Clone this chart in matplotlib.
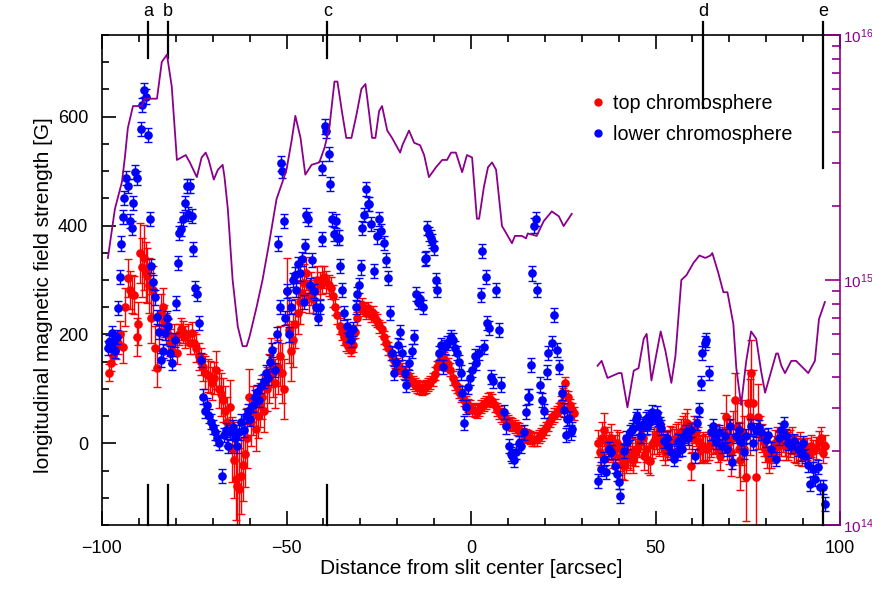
import numpy as np
import matplotlib
matplotlib.use("Agg")
import matplotlib.pyplot as plt
import matplotlib.transforms as mtransforms
from matplotlib.lines import Line2D
from matplotlib.ticker import MultipleLocator

plt.rcParams['font.family'] = ['Liberation Sans', 'DejaVu Sans']

# ---------------- data ----------------
# top chromosphere (red)
red_x = [
    -98.0, -97.5, -97.0, -96.3, -95.6, -95.0, -94.3, -93.8, -93.0, -92.4,
    -91.8, -91.2, -90.5, -90.3, -89.7, -89.2, -88.7, -88.2, -87.8, -87.2,
    -86.7, -86.2, -85.7, -85.1, -84.6, -84.1, -83.6, -83.1, -82.6, -82.1,
    -81.6, -81.0, -80.5, -79.7, -79.2, -78.6, -78.0, -77.4, -76.8, -76.2,
    -75.6, -75.0, -74.4, -73.8, -73.2, -72.6, -72.0, -71.4, -70.8, -70.2,
    -69.6, -69.0, -68.4, -67.8, -67.2, -66.6, -66.0, -65.4, -64.8, -64.3,
    -63.8, -63.3, -62.8, -62.3, -61.8, -61.3, -60.8, -60.2, -59.6, -59.0,
    -58.4, -57.8, -57.2, -56.6, -56.0, -55.4, -54.8, -54.2, -53.6, -53.0,
    -52.4, -51.8, -51.2, -50.6, -50.0, -49.4, -48.8, -48.2, -47.6, -47.0,
    -46.4, -45.8, -45.2, -44.6, -44.0, -43.4, -42.8, -42.2, -41.6, -41.0,
    -40.4, -39.8, -39.2, -38.6, -38.0, -37.4, -36.8, -36.2, -35.6, -35.0,
    -34.4, -33.8, -33.2, -32.6, -32.0, -31.4, -30.8, -30.2, -29.6, -29.0,
    -28.4, -27.8, -27.2, -26.6, -26.0, -25.4, -24.8, -24.2, -23.6, -23.0,
    -22.4, -21.8, -21.2, -20.6, -20.0, -19.4, -18.8, -18.2, -17.6, -17.0,
    -16.4, -15.8, -15.2, -14.6, -14.0, -13.4, -12.8, -12.2, -11.6, -11.0,
    -10.4, -9.8, -9.2, -8.6, -8.0, -7.4, -6.8, -6.2, -5.6, -5.0,
    -4.4, -3.8, -3.2, -2.6, -2.0, -1.4, -0.8, -0.2, 0.4, 1.0,
    1.6, 2.2, 2.8, 3.4, 4.0, 4.6, 5.2, 5.8, 6.4, 7.0,
    7.6, 8.2, 8.8, 9.4, 10.0, 10.6, 11.2, 11.8, 12.4, 13.0,
    13.6, 14.2, 14.8, 15.4, 16.0, 16.6, 17.2, 17.8, 18.4, 19.0,
    19.6, 20.2, 20.8, 21.4, 22.0, 22.6, 23.2, 23.8, 24.4, 25.0,
    25.6, 26.2, 26.8, 27.4, 28.0,
    34.5, 35.0, 35.5, 36.0, 36.5, 37.0, 37.5, 38.0, 38.5, 39.0,
    39.5, 40.0, 40.5, 41.0, 41.5, 42.0, 42.5, 43.0, 43.5, 44.0,
    44.5, 45.0, 45.5, 46.0, 46.5, 47.0, 47.5, 48.0, 48.5, 49.0,
    49.5, 50.0, 50.5, 51.0, 51.5, 52.0, 52.5, 53.0, 53.5, 54.0,
    54.5, 55.0, 55.5, 56.0, 56.5, 57.0, 57.5, 58.0, 58.5, 59.0,
    59.5, 60.0, 60.5, 61.0, 61.5, 62.0, 62.5, 63.0, 63.5, 64.0,
    64.5, 65.0, 65.5, 66.0, 66.5, 67.0, 67.5, 68.0, 68.5, 69.0,
    69.5, 70.0, 70.5, 71.0, 71.5, 72.0, 72.5, 73.0, 73.5, 74.0,
    74.6, 75.0, 75.5, 75.9, 76.5, 77.3, 77.8, 78.3, 78.8, 79.3,
    79.8, 80.3, 80.8, 81.4, 82.0, 82.5, 83.0, 83.5, 84.0, 84.5,
    85.0, 85.5, 86.0, 86.5, 87.0, 87.5, 88.0, 88.6, 89.2, 89.8,
    90.4, 91.0, 91.6, 92.2, 92.8, 93.5, 94.2, 94.9, 95.5, 96.0,
]
red_y = [
    130, 148, 160, 175, 185, 200, 177, 250, 303, 281,
    275, 272, 195, 220, 350, 323, 341, 315, 308, 290,
    230, 281, 175, 139, 205, 240, 250, 225, 210, 200,
    185, 170, 195, 166, 200, 210, 205, 195, 200, 185,
    202, 184, 175, 160, 150, 140, 130, 125, 122, 110,
    120, 135, 100, 90, 80, 60, 40, 67, -11, -30,
    -65, -78, -84, -60, -40, -20, 10, 86, 40, 60,
    26, 50, 70, 85, 60, 100, 120, 148, 130, 110,
    140, 160, 130, 100, 280, 208, 170, 190, 220, 240,
    260, 277, 294, 312, 270, 285, 265, 280, 300, 290,
    300, 305, 296, 290, 286, 270, 250, 235, 215, 205,
    195, 185, 178, 172, 180, 205, 230, 250, 255, 245,
    240, 248, 235, 240, 230, 225, 215, 210, 195, 185,
    175, 165, 155, 150, 145, 140, 135, 130, 128, 125,
    118, 112, 108, 105, 103, 100, 102, 105, 108, 112,
    118, 128, 140, 150, 158, 155, 150, 145, 135, 120,
    110, 105, 95, 88, 80, 75, 70, 67, 62, 60,
    58, 62, 68, 72, 75, 80, 82, 78, 70, 62,
    57, 52, 48, 44, 40, 37, 34, 31, 28, 25,
    20, 17, 14, 12, 10, 8, 7, 8, 12, 16,
    22, 28, 35, 42, 48, 52, 56, 62, 75, 90,
    110, 85, 70, 62, 55,
    0, -15, 10, 25, 5, -10, -5, 10, -20, -10,
    0, -5, -25, -40, -42, -30, -20, -24, -15, -30,
    -17, -10, 0, 15, 10, -24, -10, -30, -33, -2,
    5, 15, 5, 2, 10, -5, -15, -5, 0, 7,
    5, 2, 10, 15, 0, 20, 25, 30, 38, 15,
    -42, 10, 25, 20, 5, -11, -10, -5, -8, -11,
    -5, 0, 5, 7, 10, -10, -24, 0, 20, 49,
    10, 2, -15, 10, 80, 30, -11, -30, 20, -10,
    -62, 75, 49, 129, 75, -62, 49, 20, 10, 2,
    -10, -20, -29, -20, -11, 0, 5, -5, 2, 10,
    2, -5, -5, 0, 5, -10, -11, -15, -5, -17,
    -10, -11, -20, -5, -14, -8, 2, 10, -17, -5,
]
red_err = [
    15, 15, 15, 20, 20, 25, 30, 35, 35, 35,
    35, 35, 35, 40, 55, 55, 60, 55, 50, 50,
    45, 45, 40, 35, 35, 35, 35, 30, 30, 30,
    25, 25, 25, 20, 20, 20, 20, 20, 20, 20,
    20, 20, 25, 25, 25, 25, 30, 30, 30, 30,
    30, 35, 35, 40, 40, 45, 45, 50, 60, 70,
    75, 75, 75, 70, 65, 60, 55, 50, 45, 45,
    40, 40, 40, 40, 40, 40, 45, 45, 45, 45,
    50, 55, 55, 55, 60, 60, 55, 50, 45, 40,
    40, 35, 35, 30, 30, 30, 25, 25, 25, 25,
    25, 20, 20, 20, 20, 20, 15, 15, 15, 15,
    15, 15, 12, 12, 12, 12, 12, 12, 12, 12,
    12, 12, 12, 12, 12, 12, 12, 12, 12, 12,
    12, 12, 12, 12, 12, 12, 12, 12, 12, 12,
    12, 12, 12, 12, 12, 12, 12, 12, 12, 12,
    12, 12, 12, 12, 12, 12, 12, 12, 12, 12,
    12, 12, 12, 12, 12, 12, 12, 12, 12, 12,
    12, 12, 12, 12, 12, 12, 12, 12, 12, 12,
    12, 12, 12, 12, 12, 12, 12, 12, 12, 12,
    12, 12, 12, 12, 12, 12, 12, 12, 12, 12,
    12, 12, 12, 12, 12, 12, 12, 12, 12, 12,
    12, 12, 12, 12, 12,
    25, 25, 30, 30, 25, 25, 25, 25, 25, 25,
    25, 25, 25, 25, 25, 25, 25, 25, 25, 25,
    25, 25, 25, 25, 25, 25, 25, 25, 25, 25,
    25, 25, 25, 25, 25, 25, 25, 25, 25, 25,
    25, 25, 25, 25, 25, 25, 25, 25, 25, 25,
    25, 25, 25, 25, 25, 25, 25, 25, 25, 25,
    25, 25, 25, 25, 25, 25, 25, 30, 35, 40,
    40, 40, 45, 50, 50, 45, 50, 55, 60, 60,
    80, 60, 70, 60, 60, 90, 60, 30, 25, 25,
    25, 25, 25, 25, 25, 25, 25, 25, 25, 25,
    25, 25, 25, 25, 25, 25, 25, 25, 25, 25,
    20, 20, 20, 20, 20, 20, 20, 20, 20, 20,
]

# lower chromosphere (blue)
blue_x = [
    -98.4, -98.0, -97.6, -97.2, -96.8, -96.4, -96.0, -95.6, -95.2, -94.8,
    -94.4, -94.0, -93.5, -93.0, -92.5, -92.0, -91.6, -91.0, -90.5, -89.5,
    -89.2, -88.6, -88.1, -87.6, -87.0, -86.6, -86.2, -85.7, -85.2, -84.6,
    -84.0, -83.4, -83.0, -82.5, -82.0, -81.6, -81.0, -80.3, -80.0, -79.5,
    -79.0, -78.6, -78.1, -77.6, -77.0, -76.6, -76.2, -75.7, -75.4, -74.9,
    -74.3, -73.8, -73.2, -72.7, -72.2, -71.6, -71.0, -70.5, -70.0, -69.4,
    -68.8, -68.2, -67.6, -67.0, -66.4, -65.8, -65.2, -64.6, -64.0, -63.4,
    -62.8, -62.2, -61.6, -61.0, -60.4, -59.8, -59.2, -58.6, -58.0, -57.4,
    -56.8, -56.2, -55.6, -55.0, -54.4, -53.8, -53.2, -52.7, -52.4, -51.8,
    -51.4, -51.1, -50.8, -50.3, -49.8, -49.3, -48.8, -48.3, -47.8, -47.3,
    -47.0, -46.4, -45.7, -45.2, -44.9, -44.6, -44.2, -43.7, -43.2, -42.6,
    -42.0, -41.4, -40.8, -40.5, -40.3, -39.7, -39.4, -38.6, -38.1, -37.6,
    -37.0, -36.6, -36.2, -35.7, -35.4, -34.9, -34.3, -33.7, -33.1, -32.5,
    -31.9, -31.3, -30.8, -30.3, -29.7, -29.5, -28.9, -28.4, -27.9, -27.6,
    -27.0, -26.2, -25.5, -24.9, -24.3, -23.5, -23.0, -22.4, -21.9, -21.4,
    -20.8, -20.2, -19.7, -19.2, -18.6, -18.0, -17.6, -16.8, -16.0, -15.4,
    -14.9, -14.3, -13.7, -13.0, -12.6, -12.2, -11.8, -11.4, -10.9, -10.5,
    -10.0, -9.5, -9.2, -8.6, -8.1, -7.6, -7.0, -6.4, -5.8, -5.4,
    -4.8, -4.3, -3.8, -3.3, -2.8, -2.4, -1.9, -1.4, -0.8, -0.2,
    0.4, 1.0, 1.4, 2.2, 2.6, 3.0, 3.4, 4.0, 4.3, 4.9,
    5.4, 6.0, 6.8, 7.6, 8.1, 8.9, 9.5, 10.3, 10.8, 11.1,
    11.7, 12.3, 12.9, 13.5, 14.3, 14.9, 15.4, 15.7, 16.2, 16.5,
    17.0, 17.6, 17.8, 18.6, 19.2, 19.8, 20.5, 21.0, 22.0, 22.4,
    23.2, 23.8, 24.6, 25.1, 25.7, 25.9, 26.5, 27.0, 27.3,
    34.3, 35.1, 36.0, 36.6, 37.3, 38.0, 38.9, 39.6, 40.1, 40.5,
    41.4, 42.4, 43.2, 44.0, 44.6, 45.4, 46.2, 47.3, 48.1, 49.0,
    49.9, 50.8, 51.6, 52.4, 53.5, 54.9, 55.7, 56.8, 57.6, 58.4,
    59.7, 60.8, 61.2, 61.9, 62.4, 62.7, 63.5, 63.8, 64.6, 65.1,
    65.7, 66.5, 67.9, 68.9, 70.3, 70.6, 71.9, 73.2, 74.6, 75.9,
    77.3, 78.6, 79.9, 81.4, 82.7, 84.1, 85.4, 86.8, 88.6, 90.5,
    91.4, 91.9, 92.6, 93.2, 94.0, 94.6, 95.4, 95.9,
    42.0, 43.6, 45.0, 46.7, 47.8, 48.6, 50.3, 51.2, 53.0, 54.2,
    56.2, 57.2, 58.9, 66.0, 67.2, 69.5, 72.5, 74.0, 76.5, 78.0,
    80.5, 83.4, 84.8, 86.0, 87.6, 89.5, 89.9,
]
blue_y = [
    175, 186, 180, 202, 190, 170, 195, 248, 305, 367,
    416, 450, 487, 472, 408, 396, 441, 498, 487, 578,
    622, 649, 637, 567, 412, 326, 296, 268, 232, 204,
    153, 170, 202, 230, 215, 166, 148, 190, 257, 332,
    387, 394, 412, 441, 472, 421, 472, 418, 357, 285,
    275, 221, 153, 86, 60, 70, 50, 40, 30, 20,
    10, 0, -60, 15, 25, -5, 20, 30, 10, -5,
    20, 40, 25, 50, 60, 45, 70, 85, 95, 80,
    105, 115, 130, 120, 150, 171, 135, 200, 367, 250,
    514, 500, 409, 230, 280, 200, 250, 300, 310, 281,
    330, 312, 339, 260, 363, 420, 412, 290, 336, 280,
    250, 230, 250, 376, 505, 582, 573, 531, 476, 412,
    385, 409, 378, 378, 326, 281, 239, 215, 200, 190,
    210, 250, 275, 290, 323, 396, 420, 467, 440, 440,
    403, 317, 380, 412, 390, 368, 336, 303, 239, 166,
    129, 150, 181, 204, 166, 129, 108, 148, 170, 195,
    275, 260, 265, 250, 339, 341, 396, 385, 378, 372,
    359, 300, 281, 166, 180, 140, 177, 185, 190, 195,
    190, 175, 166, 150, 130, 93, 38, 67, 104, 120,
    135, 160, 148, 166, 272, 354, 177, 305, 221, 212,
    122, 115, 281, 208, 108, 57, 31, -5, -20, -24,
    -30, -15, 0, -5, 20, 58, 86, 86, 144, 312,
    400, 412, 281, 108, 80, 60, 131, 166, 184, 235,
    171, 140, 93, 62, 16, 44, 47, 20, 26,
    -69, -47, -29, -53, -11, -16, -42, -57, -71, -96,
    -14, 2, 20, 29, 44, 31, 13, 44, 49, 57,
    49, 44, 29, 4, -5, -29, -17, 2, 13, 20,
    25, -24, 38, 62, 111, 166, 184, 190, 129, 20,
    31, 2, -5, 13, 31, -35, 13, 2, 13, 31,
    25, 20, 7, -11, -29, 25, 13, -5, -11, -24,
    -40, -75, -47, -66, -44, -80, -80, -111,
    10, 25, 50, 35, 30, 40, 55, 35, 10, -15,
    5, -10, 10, 10, 20, -10, 25, -15, 0, 30,
    15, 10, 35, 0, 5, -20, 0,
]
blue_err = [13] * len(blue_y)

# purple curve (right log axis), two segments: position [arcsec], log10 value
purple1_x = [
    -98.4, -96.5, -94.6, -93.8, -93.0, -91.6, -89.2, -88.4, -87.0, -85.1,
    -83.8, -82.4, -81.1, -79.7, -77.3, -76.2, -74.3, -73.0, -71.9, -71.1,
    -69.7, -68.6, -67.3, -66.8, -65.9, -64.6, -63.2, -61.9, -60.8, -60.0,
    -58.1, -56.5, -54.6, -52.7, -51.1, -50.0, -48.6, -47.6, -46.2, -44.9,
    -43.2, -41.1, -39.7, -38.4, -37.0, -36.2, -34.9, -33.8, -32.4, -31.1,
    -29.7, -28.6, -27.6, -26.8, -25.9, -24.9, -24.1, -22.7, -21.4, -19.2,
    -18.6, -16.8, -15.4, -13.8, -12.7, -11.4, -9.5, -7.8, -6.5, -5.4,
    -4.1, -2.4, -1.1, 0.3, 1.6, 2.2, 3.5, 4.6, 5.7, 6.8,
    8.4, 9.2, 11.1, 11.9, 13.8, 14.9, 15.4, 17.8, 19.7, 21.9,
    23.8, 25.1, 27.3,
]
purple1_log = [
    15.09, 15.29, 15.40, 15.50, 15.62, 15.71, 15.71, 15.74, 15.74, 15.74,
    15.89, 15.92, 15.79, 15.49, 15.51, 15.48, 15.42, 15.50, 15.52, 15.49,
    15.41, 15.45, 15.47, 15.42, 15.29, 15.00, 14.81, 14.73, 14.73, 14.77,
    14.89, 15.00, 15.16, 15.33, 15.40, 15.45, 15.57, 15.67, 15.58, 15.43,
    15.47, 15.48, 15.54, 15.62, 15.81, 15.81, 15.68, 15.58, 15.58, 15.67,
    15.78, 15.80, 15.68, 15.58, 15.58, 15.69, 15.71, 15.61, 15.58, 15.52,
    15.55, 15.61, 15.56, 15.55, 15.51, 15.42, 15.46, 15.49, 15.49, 15.52,
    15.52, 15.44, 15.51, 15.50, 15.25, 15.25, 15.38, 15.46, 15.48, 15.45,
    15.22, 15.20, 15.15, 15.18, 15.18, 15.17, 15.19, 15.18, 15.24, 15.28,
    15.26, 15.22, 15.27,
]
purple2_x = [
    34.3, 35.4, 37.0, 40.0, 40.8, 42.4, 44.1, 45.4, 46.8, 47.6,
    48.9, 51.4, 52.7, 54.3, 55.4, 57.0, 58.4, 60.3, 61.9, 63.5,
    64.9, 65.4, 67.0, 68.4, 69.5, 71.1, 71.9, 73.2, 74.6, 75.9,
    77.3, 78.6, 79.7, 81.4, 82.7, 83.2, 84.1, 85.1, 86.8, 88.1,
    91.4, 93.2, 94.3, 95.9,
]
purple2_log = [
    14.65, 14.67, 14.60, 14.62, 14.62, 14.48, 14.63, 14.64, 14.76, 14.78,
    14.59, 14.79, 14.71, 14.58, 14.69, 15.00, 15.02, 15.07, 15.10, 15.09,
    15.10, 15.11, 15.03, 14.95, 14.95, 14.82, 14.64, 14.49, 14.67, 14.79,
    14.76, 14.63, 14.54, 14.63, 14.70, 14.70, 14.65, 14.62, 14.67, 14.67,
    14.62, 14.67, 14.84, 14.91,
]

# position markers
mark_labels = ['a', 'b', 'c', 'd', 'e']
mark_x = [-87.6, -82.2, -38.9, 63.0, 95.4]
mark_top_len = [0.047, 0.047, 0.047, 0.149, 0.272]   # axes-fraction length inside
mark_bot_len = [0.082, 0.082, 0.082, 0.082, 0.071]

# ---------------- figure ----------------
W, H = 872, 592
fig = plt.figure(figsize=(W / 100, H / 100), dpi=100)
ax = fig.add_axes([102 / W, 1 - 525 / H, 738 / W, 490 / H])

purple = '#8B008B'
red = '#ff0000'
blue = '#0000ff'

ax.errorbar(red_x, red_y, yerr=red_err, fmt='o', color=red, ms=5.2,
            elinewidth=1.0, capsize=2.6, capthick=1.0, zorder=2)
ax.errorbar(blue_x, blue_y, yerr=blue_err, fmt='o', color=blue, ms=5.2,
            elinewidth=1.0, capsize=2.6, capthick=1.0, zorder=3)

ax.set_xlim(-100, 100)
ax.set_ylim(-150, 750)
ax.xaxis.set_major_locator(MultipleLocator(50))
ax.xaxis.set_minor_locator(MultipleLocator(10))
ax.yaxis.set_major_locator(MultipleLocator(200))
ax.yaxis.set_minor_locator(MultipleLocator(50))
ax.tick_params(which='both', direction='in', top=True, right=False,
               width=1.2, labelsize=13)
ax.tick_params(which='major', length=10)
ax.tick_params(which='minor', length=5)
ax.tick_params(axis='x', which='both', pad=11)
ax.tick_params(axis='y', which='both', pad=10)
for s in ['left', 'top', 'bottom']:
    ax.spines[s].set_linewidth(1.2)
ax.spines['right'].set_visible(False)

ax.set_xlabel('Distance from slit center [arcsec]', fontsize=15, labelpad=1)
ax.set_ylabel('longitudinal magnetic field strength [G]', fontsize=15)
ax.yaxis.set_label_coords(-0.066, 0.47)

# markers a-e
trans = mtransforms.blended_transform_factory(ax.transData, ax.transAxes)
for lab, mx, lt, lb in zip(mark_labels, mark_x, mark_top_len, mark_bot_len):
    ax.plot([mx, mx], [1.027, 1 - lt], color='black', lw=1.6, transform=trans,
            clip_on=False, zorder=5)
    ax.plot([mx, mx], [0, lb], color='black', lw=1.6, transform=trans,
            clip_on=False, zorder=5)
    ax.text(mx, 1.048, lab, transform=trans, ha='center', va='center',
            fontsize=13)

# legend
handles = [Line2D([], [], marker='o', color=red, ls='none', ms=5),
           Line2D([], [], marker='o', color=blue, ls='none', ms=5)]
ax.legend(handles, ['top chromosphere', 'lower chromosphere'], loc='upper left',
          bbox_to_anchor=(0.648, 0.895), frameon=False, fontsize=14.2,
          handletextpad=0.25, labelspacing=0.6, handlelength=1.0,
          borderaxespad=0)

# right log axis with purple curve
ax2 = ax.twinx()
ax2.set_yscale('log')
ax2.set_ylim(1e14, 1e16)
ax2.plot(purple1_x, 10 ** np.array(purple1_log), color=purple, lw=1.3)
ax2.plot(purple2_x, 10 ** np.array(purple2_log), color=purple, lw=1.3)
for s in ['left', 'top', 'bottom']:
    ax2.spines[s].set_visible(False)
ax2.spines['right'].set_color(purple)
ax2.spines['right'].set_linewidth(1.2)
ax2.tick_params(axis='y', which='both', direction='in', colors=purple,
                width=1.2, labelsize=11, pad=2)
ax2.tick_params(axis='y', which='major', length=11)
ax2.tick_params(axis='y', which='minor', length=6)
ax2.yaxis.set_minor_formatter(plt.NullFormatter())
ax2.set_xlim(-100, 100)

fig.savefig('out.png', dpi=100)
